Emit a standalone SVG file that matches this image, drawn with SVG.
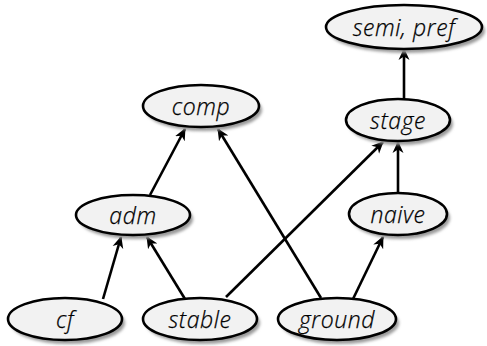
<svg xmlns="http://www.w3.org/2000/svg" width="487" height="346" viewBox="0 0 487 346">
  <defs>
    <filter id="shadow" x="-20%" y="-30%" width="140%" height="160%">
      <feGaussianBlur stdDeviation="1.5"/>
    </filter>
    <marker id="arrow" viewBox="0 0 12 12" refX="11" refY="6" markerWidth="12" markerHeight="12" markerUnits="userSpaceOnUse" orient="auto">
      <path d="M0,0.5 L12,6 L0,11.5 L3.5,6 Z" fill="#000"/>
    </marker>
  </defs>
  <style>
    .sh { fill: #9a9a9a; filter: url(#shadow); }
    .nd { fill: #f2f2f2; stroke: #000; stroke-width: 2.6; }
    .lb { font-family: "Open Sans", Lato, sans-serif; font-style: italic; font-weight: 300; font-size: 23px; letter-spacing: 0.6px; fill: #000; stroke: #000; stroke-width: 0.25; text-anchor: middle; dominant-baseline: central; }
    .ed { stroke: #000; stroke-width: 2.6; fill: none; marker-end: url(#arrow); }
  </style>

  <!-- connectors -->
  <g id="edges">
    <line class="ed" x1="103" y1="299" x2="121" y2="237"/>
    <line class="ed" x1="185" y1="299" x2="147" y2="237"/>
    <line class="ed" x1="226" y1="297" x2="383" y2="142"/>
    <line class="ed" x1="321" y1="298" x2="218" y2="129"/>
    <line class="ed" x1="353" y1="299" x2="383" y2="237"/>
    <line class="ed" x1="150" y1="195" x2="185" y2="129"/>
    <line class="ed" x1="398" y1="193" x2="398" y2="142"/>
    <line class="ed" x1="404" y1="99" x2="404" y2="49"/>
  </g>

  <!-- nodes -->
  <g id="semi-pref">
    <ellipse class="sh" cx="407" cy="31" rx="78" ry="22"/>
    <ellipse class="nd" cx="404" cy="27" rx="78" ry="22"/>
    <text class="lb" x="404" y="27">semi, pref</text>
  </g>
  <g id="comp">
    <ellipse class="sh" cx="204" cy="110" rx="58" ry="21"/>
    <ellipse class="nd" cx="201" cy="106" rx="58" ry="21"/>
    <text class="lb" x="201" y="106">comp</text>
  </g>
  <g id="stage">
    <ellipse class="sh" cx="401" cy="124" rx="52" ry="21"/>
    <ellipse class="nd" cx="398" cy="120" rx="52" ry="21"/>
    <text class="lb" x="398" y="120">stage</text>
  </g>
  <g id="adm">
    <ellipse class="sh" cx="136" cy="219" rx="57" ry="20"/>
    <ellipse class="nd" cx="133" cy="215" rx="57" ry="20"/>
    <text class="lb" x="133" y="215">adm</text>
  </g>
  <g id="naive">
    <ellipse class="sh" cx="401" cy="218" rx="49" ry="21"/>
    <ellipse class="nd" cx="398" cy="214" rx="49" ry="21"/>
    <text class="lb" x="398" y="214">naive</text>
  </g>
  <g id="cf">
    <ellipse class="sh" cx="68" cy="323" rx="57" ry="21"/>
    <ellipse class="nd" cx="65" cy="319" rx="57" ry="21"/>
    <text class="lb" x="65" y="319">cf</text>
  </g>
  <g id="stable">
    <ellipse class="sh" cx="203" cy="323" rx="57" ry="21"/>
    <ellipse class="nd" cx="200" cy="319" rx="57" ry="21"/>
    <text class="lb" x="200" y="319">stable</text>
  </g>
  <g id="ground">
    <ellipse class="sh" cx="340" cy="323" rx="59" ry="21"/>
    <ellipse class="nd" cx="337" cy="319" rx="59" ry="21"/>
    <text class="lb" x="337" y="319">ground</text>
  </g>
</svg>
